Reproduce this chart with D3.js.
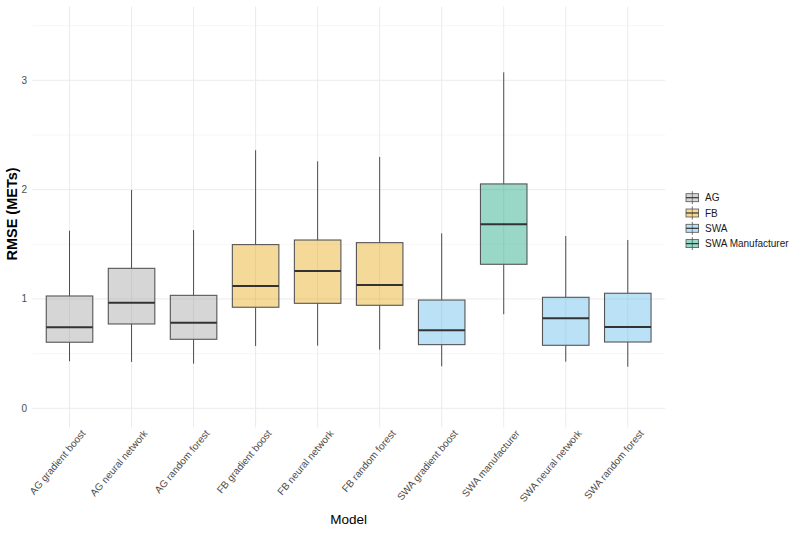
<!DOCTYPE html>
<html>
<head>
<meta charset="utf-8">
<script src="https://cdn.jsdelivr.net/npm/d3@7"></script>
<style>
  body { margin: 0; background: #fff; }
  svg { display: block; font-family: "Liberation Sans", Arial, sans-serif; }
</style>
</head>
<body>
<svg id="chart" width="800" height="533"></svg>
<script>
// ---- data ----
const models = ["AG gradient boost","AG neural network","AG random forest","FB gradient boost","FB neural network","FB random forest","SWA gradient boost","SWA manufacturer","SWA neural network","SWA random forest"];
const groups = ["AG","AG","AG","FB","FB","FB","SWA","SWA Manufacturer","SWA","SWA"];
const lowerWhisker = [0.43, 0.424, 0.408, 0.57, 0.573, 0.536, 0.384, 0.86, 0.426, 0.38];
const q1 =           [0.604, 0.771, 0.631, 0.924, 0.96, 0.942, 0.582, 1.317, 0.576, 0.606];
const median =       [0.741, 0.966, 0.783, 1.119, 1.256, 1.128, 0.713, 1.683, 0.823, 0.744];
const q3 =           [1.027, 1.28, 1.033, 1.497, 1.539, 1.515, 0.99, 2.052, 1.015, 1.052];
const upperWhisker = [1.624, 1.997, 1.63, 2.36, 2.259, 2.299, 1.60, 3.073, 1.576, 1.539];
const legendGroups = ["AG","FB","SWA","SWA Manufacturer"];
const groupColors = ["#999999","#E69F00","#56B4E9","#009E73"];
const yTicks = [0, 1, 2, 3];
const yMinor = [0.5, 1.5, 2.5, 3.5];

// ---- layout ----
const svg = d3.select("#chart");
const panel = {left: 32.3, right: 665, top: 6.5, bottom: 427.4};
// ggplot-like discrete expansion (0.6 of a step on each side)
const x = d3.scalePoint().domain(models)
  .range([panel.left, panel.right]).padding(0.6);
const step = x.step();
const y = d3.scaleLinear().domain([-0.175, 3.675]).range([panel.bottom, panel.top]);
const color = d3.scaleOrdinal().domain(legendGroups).range(groupColors);
const fillOpacity = 0.4;

// grid
const grid = svg.append("g");
grid.selectAll("line.minor").data(yMinor).join("line")
  .attr("x1", panel.left).attr("x2", panel.right)
  .attr("y1", d => y(d)).attr("y2", d => y(d))
  .attr("stroke", "#f0f0f0").attr("stroke-width", 0.6);
grid.selectAll("line.major").data(yTicks).join("line")
  .attr("x1", panel.left).attr("x2", panel.right)
  .attr("y1", d => y(d)).attr("y2", d => y(d))
  .attr("stroke", "#ebebeb").attr("stroke-width", 1);
grid.selectAll("line.vert").data(models).join("line")
  .attr("x1", d => x(d)).attr("x2", d => x(d))
  .attr("y1", panel.top).attr("y2", panel.bottom)
  .attr("stroke", "#ebebeb").attr("stroke-width", 1);

// y axis labels
svg.append("g").selectAll("text").data(yTicks).join("text")
  .attr("x", 27).attr("y", d => y(d)).attr("dy", "0.35em")
  .attr("text-anchor", "end").attr("font-size", 10).attr("fill", "#4d4d4d")
  .text(d => d);

// boxes
const boxW = step * 0.75;
const boxes = svg.append("g").selectAll("g").data(models).join("g");
boxes.append("line")
  .attr("x1", d => x(d)).attr("x2", d => x(d))
  .attr("y1", (d, i) => y(upperWhisker[i])).attr("y2", (d, i) => y(q3[i]))
  .attr("stroke", "#4d4d4d").attr("stroke-width", 1);
boxes.append("line")
  .attr("x1", d => x(d)).attr("x2", d => x(d))
  .attr("y1", (d, i) => y(q1[i])).attr("y2", (d, i) => y(lowerWhisker[i]))
  .attr("stroke", "#4d4d4d").attr("stroke-width", 1);
boxes.append("rect")
  .attr("x", d => x(d) - boxW / 2).attr("width", boxW)
  .attr("y", (d, i) => y(q3[i])).attr("height", (d, i) => y(q1[i]) - y(q3[i]))
  .attr("fill", (d, i) => color(groups[i])).attr("fill-opacity", fillOpacity)
  .attr("stroke", "#555").attr("stroke-width", 1.1);
boxes.append("line")
  .attr("x1", d => x(d) - boxW / 2).attr("x2", d => x(d) + boxW / 2)
  .attr("y1", (d, i) => y(median[i])).attr("y2", (d, i) => y(median[i]))
  .attr("stroke", "#333").attr("stroke-width", 2);

// x axis labels
svg.append("g").selectAll("text").data(models).join("text")
  .attr("transform", d => `translate(${x(d) + 11},${429}) rotate(-50)`)
  .attr("dy", "0.72em")
  .attr("text-anchor", "end").attr("font-size", 10).attr("fill", "#4d4d4d")
  .text(d => d);

// axis titles
svg.append("text")
  .attr("x", (panel.left + panel.right) / 2).attr("y", 524)
  .attr("text-anchor", "middle").attr("font-size", 13.5).attr("fill", "#000")
  .text("Model");
svg.append("text")
  .attr("transform", `translate(17,${214}) rotate(-90)`)
  .attr("text-anchor", "middle").attr("font-size", 14.5).attr("font-weight", "bold").attr("fill", "#000")
  .text("RMSE (METs)");

// legend
const leg = svg.append("g");
const legItem = leg.selectAll("g").data(legendGroups).join("g")
  .attr("transform", (d, i) => `translate(686,${197.7 + i * 15.3})`);
legItem.append("line")
  .attr("x1", 6.3).attr("x2", 6.3).attr("y1", -6.5).attr("y2", 6.5)
  .attr("stroke", "#4d4d4d").attr("stroke-width", 0.8);
legItem.append("rect")
  .attr("x", 0).attr("y", -4).attr("width", 12.6).attr("height", 8)
  .attr("fill", d => color(d)).attr("fill-opacity", fillOpacity)
  .attr("stroke", "#555").attr("stroke-width", 0.8);
legItem.append("line")
  .attr("x1", 0).attr("x2", 12.6).attr("y1", 0).attr("y2", 0)
  .attr("stroke", "#333").attr("stroke-width", 1.2);
legItem.append("text")
  .attr("x", 19).attr("y", 0).attr("dy", "0.35em")
  .attr("font-size", 10).attr("fill", "#1a1a1a")
  .text(d => d);
</script>
</body>
</html>
